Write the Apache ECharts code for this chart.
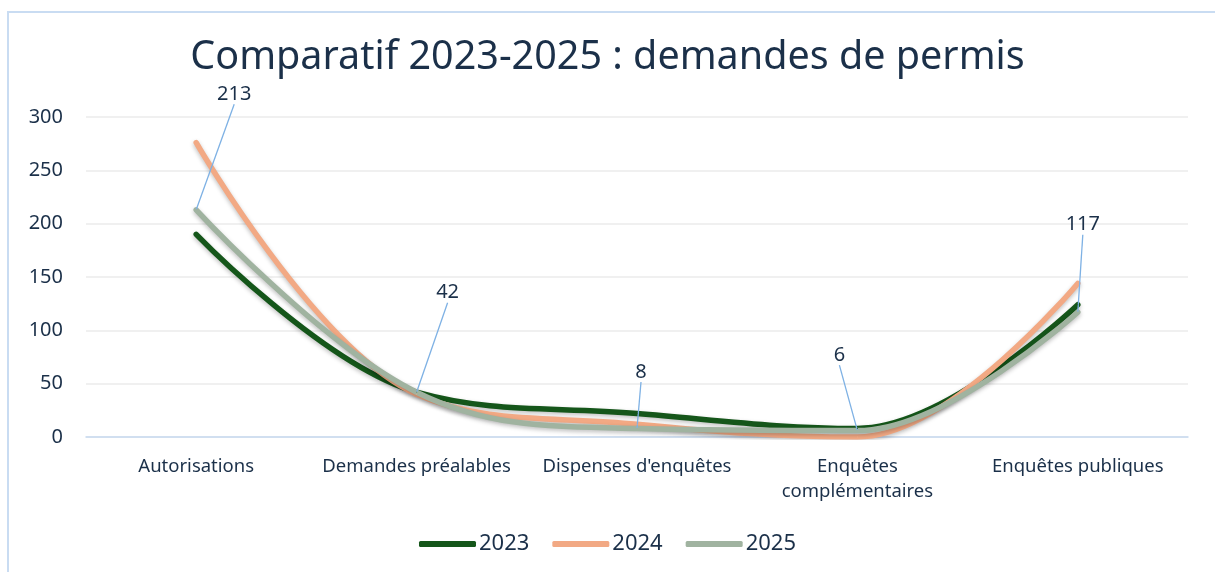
<!DOCTYPE html>
<html>
<head>
<meta charset="utf-8">
<script src="https://cdn.jsdelivr.net/npm/echarts@6/dist/echarts.min.js"></script>
<style>
    html, body { margin: 0; padding: 0; background: #fff; }
    #frame { position: absolute; left: 7px; top: 11px; width: 1300px; height: 700px; border: 2px solid #c9dcf2; }
    #chart { position: absolute; left: 0; top: 0; width: 1215px; height: 572px; }
</style>
</head>
<body>
<div id="frame"></div>
<div id="chart"></div>
<script>
    // données
    const categories = ['Autorisations', 'Demandes préalables', "Dispenses d'enquêtes", 'Enquêtes complémentaires', 'Enquêtes publiques'];
    const data2023 = [190, 42, 22, 8, 124];
    const data2024 = [276, 40, 12, 0, 144];
    const data2025 = [213, 42, 8, 6, 117];
    const yTicks = [0, 50, 100, 150, 200, 250, 300];

    // décalage des étiquettes (callouts) de la série 2025
    const labelDx = [38, 31, 4, -18, 5];
    const labelDy = [-100, -84, -41, -60, -72];

    const textColor = '#1b3049';
    const font = '"Noto Sans", sans-serif';

    let myChart = echarts.init(document.getElementById('chart'));

    function makeSeries(name, data, color) {
        return {
            name: name,
            type: 'line',
            data: data,
            smooth: 0.38,
            symbol: 'circle',
            symbolSize: 1,
            itemStyle: { color: color },
            lineStyle: {
                width: 5.5,
                color: color,
                cap: 'round',
                shadowColor: 'rgba(0,0,0,0.25)',
                shadowBlur: 4,
                shadowOffsetY: 2
            },
            emphasis: { disabled: true }
        };
    }

    let s2025 = makeSeries('2025', data2025, '#a0b3a0');
    s2025.label = {
        show: true,
        position: 'top',
        color: textColor,
        fontSize: 20,
        fontFamily: font
    };
    s2025.labelLine = {
        show: true,
        lineStyle: { color: '#7eb1e4', width: 1.3 }
    };
    s2025.labelLayout = function (params) {
        return { dx: labelDx[params.dataIndex], dy: labelDy[params.dataIndex] };
    };

    myChart.setOption({
        animation: false,
        title: {
            text: 'Comparatif 2023-2025 : demandes de permis',
            left: 'center',
            top: 33,
            textStyle: { color: textColor, fontSize: 39.5, fontWeight: 'normal', fontFamily: font }
        },
        legend: {
            bottom: 12,
            left: 'center',
            icon: 'roundRect',
            itemWidth: 57,
            itemHeight: 6,
            itemGap: 23,
            textStyle: { color: textColor, fontSize: 22, fontFamily: font, padding: [0, 0, 0, -2] },
            data: ['2023', '2024', '2025']
        },
        grid: {
            left: 86,
            right: 27,
            top: 117,
            bottom: 135,
            containLabel: false
        },
        xAxis: {
            type: 'category',
            data: categories,
            boundaryGap: true,
            axisTick: { show: false },
            axisLine: { lineStyle: { color: '#c6d9f0', width: 1.5 } },
            axisLabel: {
                interval: 0,
                margin: 17,
                color: textColor,
                fontSize: 18.5,
                fontFamily: font,
                lineHeight: 25,
                formatter: function (v) {
                    return v === 'Enquêtes complémentaires' ? 'Enquêtes\ncomplémentaires' : v;
                }
            }
        },
        yAxis: {
            type: 'value',
            min: yTicks[0],
            max: yTicks[yTicks.length - 1],
            interval: 50,
            axisLine: { show: false },
            axisTick: { show: false },
            splitLine: { lineStyle: { color: '#ebebeb', width: 1.5 } },
            axisLabel: { margin: 23, color: textColor, fontSize: 20, fontFamily: font }
        },
        series: [
            makeSeries('2023', data2023, '#15561a'),
            makeSeries('2024', data2024, '#f2a984'),
            s2025
        ]
    });
</script>
</body>
</html>
